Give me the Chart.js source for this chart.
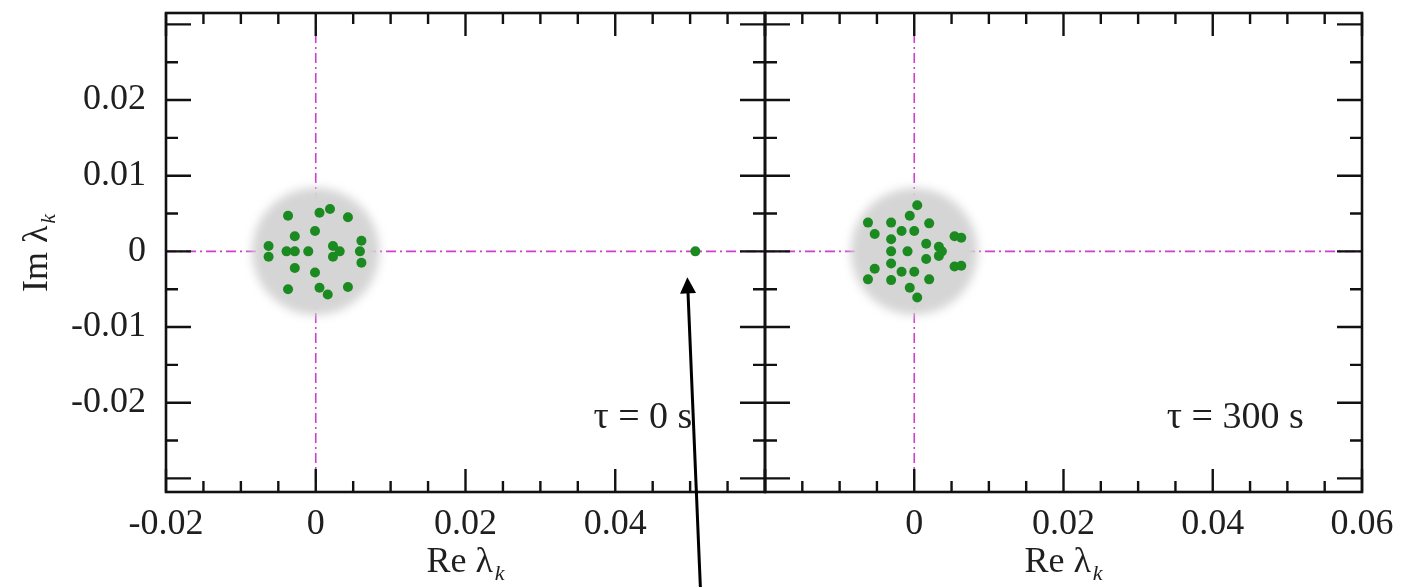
<!DOCTYPE html>
<html>
<head>
<meta charset="utf-8">
<script src="https://cdn.jsdelivr.net/npm/chart.js@4.4.1/dist/chart.umd.min.js"></script>
<style>
  html, body { margin: 0; padding: 0; background: #ffffff; }
  #wrap { position: relative; width: 1403px; height: 587px; overflow: hidden; background: #ffffff; }
  .box { position: absolute; top: 0; height: 587px; }
  #lbox { left: 0; width: 770px; }
  #rbox { left: 745px; width: 658px; }
  canvas { display: block; }
</style>
</head>
<body>
<div id="wrap">
  <div class="box" id="lbox"><canvas id="left" width="770" height="587"></canvas></div>
  <div class="box" id="rbox"><canvas id="right" width="658" height="587"></canvas></div>
</div>
<script>
// Axis ranges (shared by both panels)
const xMin = -0.02, xMax = 0.06;
const yMin = -0.0318, yMax = 0.0315;

// Tick positions and labels
const xTickValues = [-0.02, -0.015, -0.01, -0.005, 0, 0.005, 0.01, 0.015, 0.02, 0.025,
                     0.03, 0.035, 0.04, 0.045, 0.05, 0.055, 0.06];
const xMajorValues = [-0.02, 0, 0.02, 0.04, 0.06];
const yTickValues = [-0.03, -0.025, -0.02, -0.015, -0.01, -0.005, 0, 0.005, 0.01, 0.015,
                     0.02, 0.025, 0.03];
const yMajorValues = [-0.03, -0.02, -0.01, 0, 0.01, 0.02, 0.03];
const xLabelValuesLeft = [-0.02, 0, 0.02, 0.04];
const xLabelTextLeft = ['-0.02', '0', '0.02', '0.04'];
const xLabelValuesRight = [0, 0.02, 0.04, 0.06];
const xLabelTextRight = ['0', '0.02', '0.04', '0.06'];
const yLabelValues = [0.02, 0.01, 0, -0.01, -0.02];
const yLabelText = ['0.02', '0.01', '0', '-0.01', '-0.02'];

// Eigenvalues lambda_k at tau = 0 s (Re, Im)
const re0 = [-0.0037, 0.0005, 0.0019, 0.0043, -0.0001, -0.0028, -0.0063, 0.0023, 0.0061,
             -0.0037, 0.0005, 0.0016, 0.0043, -0.0001, -0.0028, -0.0063, 0.0023, 0.0061,
             -0.0039, -0.0028, -0.0010, 0.0032, 0.0059,
             0.0507];
const im0 = [0.0047, 0.0051, 0.0056, 0.0045, 0.0027, 0.0020, 0.0007, 0.0007, 0.0014,
             -0.0050, -0.0048, -0.0057, -0.0047, -0.0028, -0.0022, -0.0007, -0.0007, -0.0015,
             0, 0, 0, 0, 0,
             0];

// Eigenvalues lambda_k at tau = 300 s (Re, Im)
const re300 = [0.0004, -0.0062, -0.0031, -0.0006, 0.0020, -0.0017, 0.0000, -0.0053, -0.0031, 0.0054, 0.0063, 0.0016, 0.0033,
               0.0004, -0.0062, -0.0031, -0.0006, 0.0020, -0.0017, 0.0000, -0.0053, -0.0031, 0.0054, 0.0063, 0.0016, 0.0033,
               -0.0031, -0.0009, 0.0037];
const im300 = [0.0061, 0.0038, 0.0038, 0.0047, 0.0037, 0.0027, 0.0027, 0.0023, 0.0016, 0.0020, 0.0018, 0.0010, 0.0006,
               -0.0061, -0.0037, -0.0038, -0.0048, -0.0037, -0.0027, -0.0027, -0.0023, -0.0016, -0.0020, -0.0019, -0.0010, -0.0006,
               0, 0, 0];

// Radius of the shaded region around the origin
const discRadius = 0.0085;
// The isolated eigenvalue the arrow points at
const outlierRe = 0.0507, outlierIm = 0;

const SERIF = '"Liberation Serif", "Times New Roman", serif';
const INK = '#1f1f1f';

function near(a, b) { return Math.abs(a - b) < 1e-9; }
function has(list, v) { return list.some(u => near(u, v)); }

function drawLambdaTitle(ctx, base, cx, baseline) {
  ctx.font = '36px ' + SERIF;
  const wb = ctx.measureText(base).width;
  ctx.font = 'italic 22px ' + SERIF;
  const ws = ctx.measureText('k').width;
  const x0 = cx - (wb + ws + 2) / 2;
  ctx.fillStyle = INK;
  ctx.textAlign = 'left';
  ctx.textBaseline = 'alphabetic';
  ctx.font = '36px ' + SERIF;
  ctx.fillText(base, x0, baseline);
  ctx.font = 'italic 22px ' + SERIF;
  ctx.fillText('k', x0 + wb + 2, baseline + 8);
}

function panelDecor(cfg) {
  return {
    id: 'panelDecor',
    beforeDatasetsDraw(chart) {
      const { ctx, chartArea: a, scales: { x, y } } = chart;
      const x0 = x.getPixelForValue(0), y0 = y.getPixelForValue(0);
      ctx.save();
      ctx.beginPath();
      ctx.rect(a.left, a.top, a.right - a.left, a.bottom - a.top);
      ctx.clip();
      // zero lines
      ctx.strokeStyle = '#cf3fcf';
      ctx.lineWidth = 1.6;
      ctx.setLineDash([10, 4, 2, 4]);
      ctx.beginPath();
      ctx.moveTo(x0, a.top); ctx.lineTo(x0, a.bottom);
      ctx.moveTo(a.left, y0); ctx.lineTo(a.right, y0);
      ctx.stroke();
      ctx.setLineDash([]);
      // shaded disc around the origin
      const r = Math.abs(x.getPixelForValue(discRadius) - x0);
      ctx.filter = 'blur(5px)';
      ctx.fillStyle = '#d5d5d5';
      ctx.beginPath();
      ctx.arc(x0, y0, r, 0, Math.PI * 2);
      ctx.fill();
      ctx.filter = 'none';
      ctx.restore();
    },
    afterDraw(chart) {
      const { ctx, chartArea: a, scales: { x, y } } = chart;
      ctx.save();
      ctx.strokeStyle = '#111';
      ctx.lineCap = 'butt';
      // inward tick marks
      ctx.lineWidth = 2.4;
      ctx.beginPath();
      xTickValues.forEach(v => {
        const px = x.getPixelForValue(v);
        const len = has(xMajorValues, v) ? 23 : 11;
        ctx.moveTo(px, a.bottom); ctx.lineTo(px, a.bottom - len);
        ctx.moveTo(px, a.top); ctx.lineTo(px, a.top + len);
      });
      yTickValues.forEach(v => {
        const py = y.getPixelForValue(v);
        const len = has(yMajorValues, v) ? 25 : 12;
        ctx.moveTo(a.left, py); ctx.lineTo(a.left + len, py);
        ctx.moveTo(a.right, py); ctx.lineTo(a.right - len, py);
      });
      ctx.stroke();
      // frame
      ctx.lineWidth = 2.6;
      ctx.strokeRect(a.left, a.top, a.right - a.left, a.bottom - a.top);

      // tau label
      ctx.fillStyle = INK;
      ctx.font = '38px ' + SERIF;
      ctx.textAlign = 'right';
      ctx.textBaseline = 'middle';
      ctx.fillText(cfg.tauText, x.getPixelForValue(cfg.tauX), y.getPixelForValue(-0.0220));

      // x axis title
      drawLambdaTitle(ctx, 'Re \u03bb', (a.left + a.right) / 2, 572);

      if (cfg.yTitle) {
        ctx.save();
        ctx.translate(47, 253);
        ctx.rotate(-Math.PI / 2);
        drawLambdaTitle(ctx, 'Im \u03bb', 0, 0);
        ctx.restore();
      }

      if (cfg.arrow) {
        const px = x.getPixelForValue(outlierRe), py = y.getPixelForValue(outlierIm);
        const tipX = px - 8, tipY = py + 26;
        const tailX = tipX + 13, tailY = chart.height;
        const ang = Math.atan2(tipY - tailY, tipX - tailX);
        ctx.strokeStyle = '#000';
        ctx.fillStyle = '#000';
        ctx.lineWidth = 3;
        ctx.beginPath();
        ctx.moveTo(tailX, tailY);
        ctx.lineTo(tipX - Math.cos(ang) * 12, tipY - Math.sin(ang) * 12);
        ctx.stroke();
        const hl = 16, hw = 8;
        const bx = tipX - Math.cos(ang) * hl, by = tipY - Math.sin(ang) * hl;
        ctx.beginPath();
        ctx.moveTo(tipX, tipY);
        ctx.lineTo(bx + Math.sin(ang) * hw, by - Math.cos(ang) * hw);
        ctx.lineTo(bx - Math.sin(ang) * hw, by + Math.cos(ang) * hw);
        ctx.closePath();
        ctx.fill();
      }
      ctx.restore();
    }
  };
}

function makePanel(id, re, im, cfg) {
  const pts = re.map((v, i) => ({ x: v, y: im[i] }));
  return new Chart(document.getElementById(id), {
    type: 'scatter',
    data: {
      datasets: [{
        data: pts,
        backgroundColor: '#1b8a20',
        borderWidth: 0,
        pointRadius: 5,
        pointHoverRadius: 5
      }]
    },
    options: {
      responsive: false,
      animation: false,
      devicePixelRatio: 1,
      layout: { padding: cfg.padding },
      plugins: { legend: { display: false }, tooltip: { enabled: false } },
      events: [],
      scales: {
        x: {
          type: 'linear',
          min: xMin, max: xMax,
          grid: { display: false },
          border: { display: false },
          afterBuildTicks: s => { s.ticks = xTickValues.map(v => ({ value: v })); },
          afterFit: s => {
            s.height = 95;
            s.paddingLeft = 0; s.paddingRight = 0;
          },
          ticks: {
            autoSkip: false, maxRotation: 0, minRotation: 0,
            padding: 3,
            color: INK,
            font: { family: SERIF, size: 36 },
            callback: v => {
              const i = cfg.xLabelValues.findIndex(u => near(u, v));
              return i < 0 ? '' : cfg.xLabelText[i];
            }
          }
        },
        y: {
          type: 'linear',
          min: yMin, max: yMax,
          display: cfg.yAxis,
          grid: { display: false },
          border: { display: false },
          afterBuildTicks: s => { s.ticks = yTickValues.map(v => ({ value: v })); },
          afterFit: s => {
            s.width = cfg.yAxis ? 166 : 0;
            s.paddingTop = 0; s.paddingBottom = 0;
          },
          ticks: {
            autoSkip: false,
            padding: 12,
            color: INK,
            font: { family: SERIF, size: 36 },
            callback: v => {
              const i = yLabelValues.findIndex(u => near(u, v));
              return i < 0 ? '' : yLabelText[i];
            }
          }
        }
      }
    },
    plugins: [panelDecor(cfg)]
  });
}

makePanel('left', re0, im0, {
  padding: { top: 13, right: 5, left: 0, bottom: 0 },
  yAxis: true,
  yTitle: true,
  arrow: true,
  tauText: '\u03c4 = 0 s',
  tauX: 0.0503,
  xLabelValues: xLabelValuesLeft,
  xLabelText: xLabelTextLeft
});

makePanel('right', re300, im300, {
  padding: { top: 13, right: 41, left: 20, bottom: 0 },
  yAxis: false,
  yTitle: false,
  arrow: false,
  tauText: '\u03c4 = 300 s',
  tauX: 0.0522,
  xLabelValues: xLabelValuesRight,
  xLabelText: xLabelTextRight
});
</script>
</body>
</html>
